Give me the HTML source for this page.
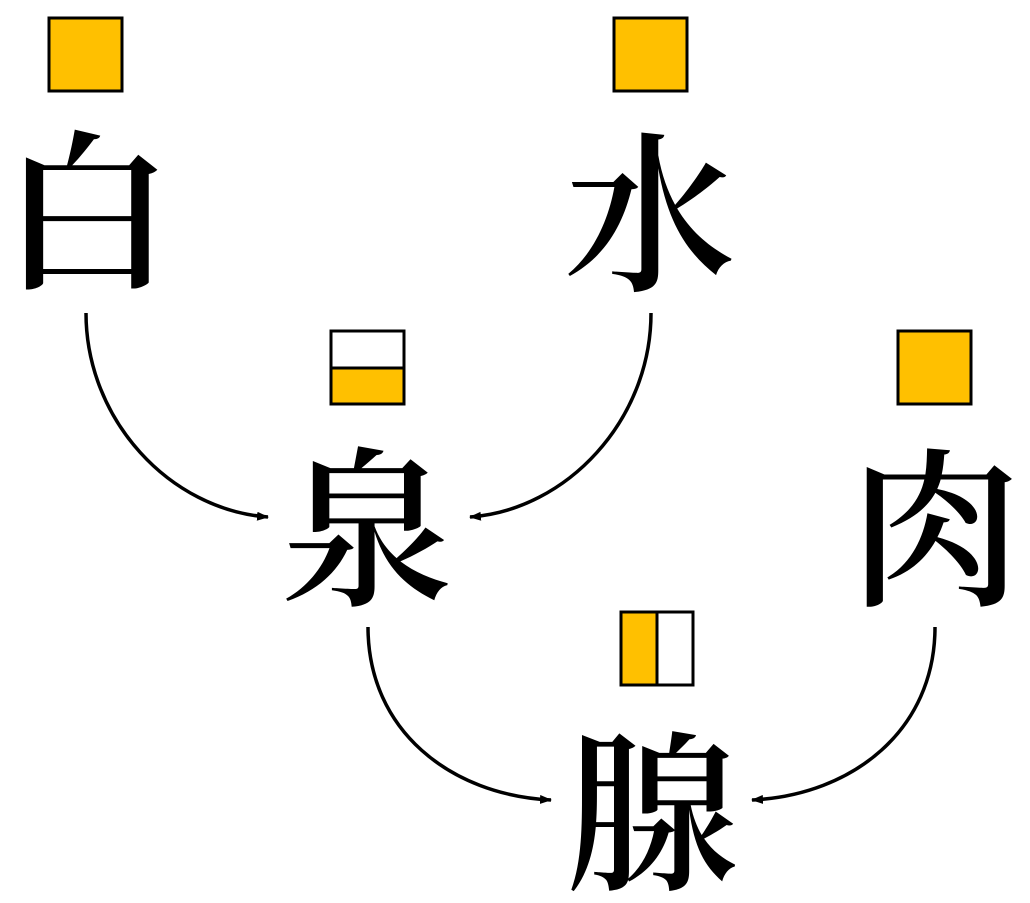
<!DOCTYPE html>
<html><head><meta charset="utf-8"><style>
html,body{margin:0;padding:0;background:#fff;width:1030px;height:903px;overflow:hidden}
svg text{font-family:"Noto Serif CJK SC","Noto Sans CJK SC",serif;font-size:172px;font-weight:600;fill:#000}
</style></head><body>
<svg width="1030" height="903" viewBox="0 0 1030 903" xmlns="http://www.w3.org/2000/svg">
<defs><marker id="a" markerWidth="12" markerHeight="9" refX="11" refY="4.5" orient="auto" markerUnits="userSpaceOnUse"><path d="M0,0 L12,4.5 L0,9 Z" fill="#000"/></marker></defs>
<g stroke="#000" stroke-width="3">
<rect x="49" y="18" width="73" height="73" fill="#FFC000"/>
<rect x="614" y="18" width="73" height="73" fill="#FFC000"/>
<rect x="898" y="331" width="73" height="73" fill="#FFC000"/>
<rect x="331" y="331" width="73" height="73" fill="#fff"/>
<rect x="331" y="368" width="73" height="36" fill="#FFC000"/>
<rect x="621" y="612" width="72" height="73" fill="#fff"/>
<rect x="621" y="612" width="36" height="73" fill="#FFC000"/>
</g>
<g fill="none" stroke="#000" stroke-width="3.5" marker-end="url(#a)">
<path d="M86,313 C86,420 170,510 268,517"/>
<path d="M651,313 C651,420 567,510 470,517"/>
<path d="M368,627 C368,730 450,795 551,800"/>
<path d="M935,627 C935,730 853,795 752,800"/>
</g>
<g text-anchor="middle" dominant-baseline="central">
<text x="87" y="202">白</text>
<text x="650" y="204">水</text>
<text x="367" y="519">泉</text>
<text x="935" y="519">肉</text>
<text x="652" y="803">腺</text>
</g>
</svg>
</body></html>
